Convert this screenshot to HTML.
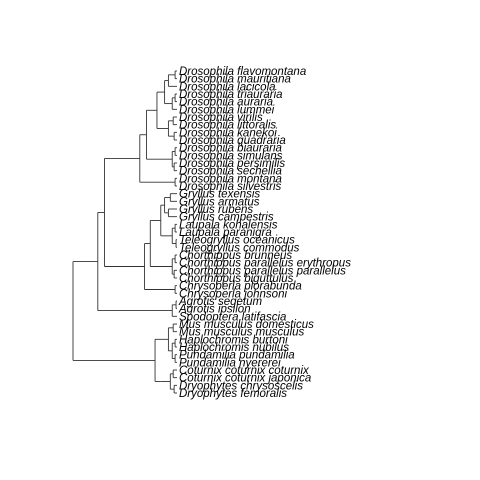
<!DOCTYPE html>
<html><head><meta charset="utf-8">
<style>
html,body{margin:0;padding:0;background:#fff;}
svg{display:block;}
text{font-family:"Liberation Sans",sans-serif;font-style:italic;font-size:11.5px;fill:#000;}
</style></head>
<body>
<svg id="chart" width="480" height="480"></svg>
<script>
const tipNames = ["Drosophila flavomontana","Drosophila mauritiana","Drosophila lacicola","Drosophila triauraria","Drosophila auraria","Drosophila lummei","Drosophila virilis","Drosophila littoralis","Drosophila kanekoi","Drosophila quadraria","Drosophila biauraria","Drosophila simulans","Drosophila persimilis","Drosophila sechellia","Drosophila montana","Drosophila silvestris","Gryllus texensis","Gryllus armatus","Gryllus rubens","Gryllus campestris","Laupala kohalensis","Laupala paranigra","Teleogryllus oceanicus","Teleogryllus commodus","Chorthippus brunneus","Chorthippus parallelus erythropus","Chorthippus parallelus parallelus","Chorthippus biguttulus","Chrysoperla plorabunda","Chrysoperla johnsoni","Agrotis segetum","Agrotis ipsilon","Spodoptera latifascia","Mus musculus domesticus","Mus musculus musculus","Haplochromis burtoni","Haplochromis nubilus","Pundamilia pundamilia","Pundamilia nyererei","Coturnix coturnix coturnix","Coturnix coturnix japonica","Dryophytes chrysoscelis","Dryophytes femoralis"];
// node depths and topology: [depth, children...]; numbers are tip indices
const tree = [0,
  [26,
    [33,
      [70,
        [77,
          [88,
            [96,[100,[107,0,1],2],[104,[107,3,4],5]],
            [100,[105,6,7],[106,8,9]]],
          [104,[107,10,11],[106,12,13]]],
        [107,14,15]],
      [75,
        [81,
          [92,[96,[102,16,17],[100,18,19]],[104,[107,20,21],[108,22,23]]],
          [104,[107,24,25],[106,26,27]]],
        [107,28,29]]],
    [104,[108,30,31],32]],
  [86,
    [96,[100,[105,33,34],[104,[107,35,36],[107,37,38]]]],
    [92,[102,[105,39,40],[106,41,42]]]]];
const tipDepth = 109;
const svg = document.getElementById('chart');
const NS = 'http://www.w3.org/2000/svg';
const x0 = 73, xScale = (177-73)/tipDepth;
const yTop = 71, yBot = 393;
const X = d => x0 + d*xScale;
const Y = i => yTop + i*(yBot-yTop)/(tipNames.length-1);
function line(x1,y1,x2,y2){
  const l=document.createElementNS(NS,'line');
  l.setAttribute('x1',x1);l.setAttribute('y1',y1);l.setAttribute('x2',x2);l.setAttribute('y2',y2);
  l.setAttribute('stroke','#333');l.setAttribute('stroke-width','0.9');
  
  
  svg.appendChild(l);
}
function draw(node){
  if(typeof node==='number'){
    const t=document.createElementNS(NS,'text');
    t.setAttribute('x',X(tipDepth)+2);t.setAttribute('y',Y(node)+4);
    t.textContent=tipNames[node];
    
    
    svg.appendChild(t);
    return {y:Y(node),x:X(tipDepth)};
  }
  const x=X(node[0]);
  const kids=node.slice(1).map(draw);
  const ys=kids.map(k=>k.y);
  kids.forEach(k=>line(x,k.y,k.x,k.y));
  if(kids.length>1) line(x,Math.min(...ys),x,Math.max(...ys));
  return {y:(Math.min(...ys)+Math.max(...ys))/2,x:x};
}
draw(tree);
</script>
</body></html>
